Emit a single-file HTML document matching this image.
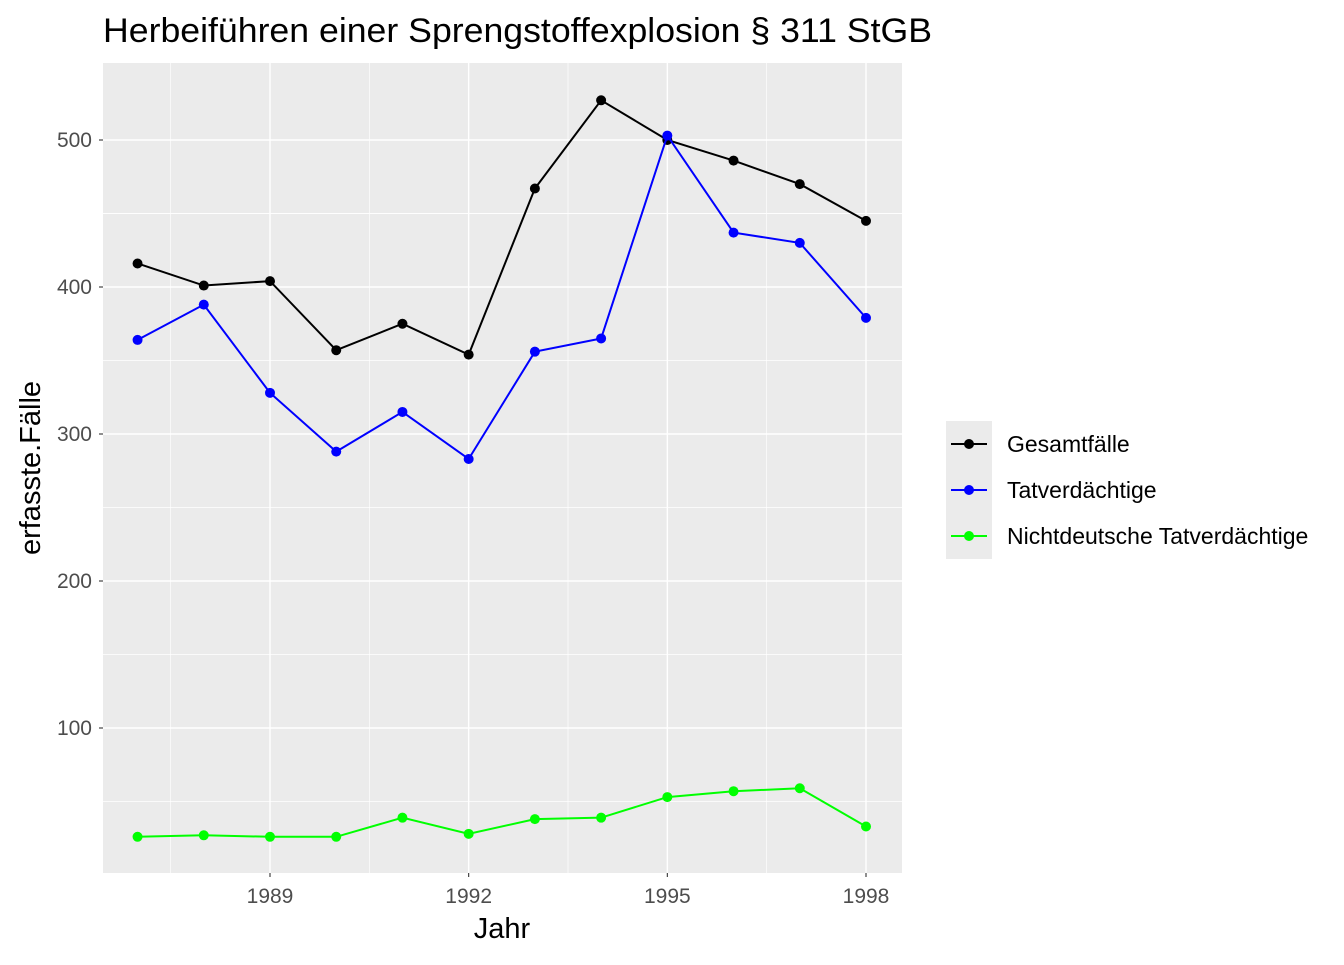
<!DOCTYPE html>
<html><head><meta charset="utf-8"><style>
body{margin:0;background:#fff}
svg{font-family:"Liberation Sans",sans-serif}
</style></head><body>
<svg id="chart" width="1344" height="960">
<rect width="1344" height="960" fill="#fff"/>
<text x="103" y="42" font-size="34" fill="#000" textLength="829" lengthAdjust="spacingAndGlyphs">Herbeiführen einer Sprengstoffexplosion § 311 StGB</text>
<rect x="103" y="63" width="799" height="810" fill="#ebebeb"/>
<g id="grid"></g><g id="series"></g><g id="axes"></g>
<text x="502" y="938" font-size="29" text-anchor="middle">Jahr</text>
<text transform="translate(40,468) rotate(-90)" font-size="29" text-anchor="middle">erfasste.Fälle</text>
<rect x="946" y="421" width="46" height="138" fill="#ebebeb"/>
<g id="legend"></g>
</svg>
<script>
const years=[1987,1988,1989,1990,1991,1992,1993,1994,1995,1996,1997,1998];
const gesamt=[416,401,404,357,375,354,467,527,500,486,470,445];
const tatv=[364,388,328,288,315,283,356,365,503,437,430,379];
const nicht=[26,27,26,26,39,28,38,39,53,57,59,33];
const seriesNames=["Gesamtfälle","Tatverdächtige","Nichtdeutsche Tatverdächtige"];
const yTicks=[100,200,300,400,500];
const xTicks=[1989,1992,1995,1998];
const NS="http://www.w3.org/2000/svg";
const x=v=>270+(v-1989)*(866-270)/9;
const y=v=>140+(500-v)*1.47;
function mk(tag,attrs,parent){const e=document.createElementNS(NS,tag);for(const k in attrs)e.setAttribute(k,attrs[k]);document.getElementById(parent).appendChild(e);return e;}
yTicks.forEach(t=>{
 const m=mk('line',{x1:103,x2:902,y1:y(t-50),y2:y(t-50),stroke:'#fff','stroke-width':0.7},'grid');
 
 
 const g=mk('line',{x1:103,x2:902,y1:y(t),y2:y(t),stroke:'#fff','stroke-width':1.4},'grid');
 
 
 const l=mk('text',{x:92,y:y(t)+7,'font-size':21,fill:'#4d4d4d','text-anchor':'end'},'axes');
 l.textContent=t;
 
 
});
{const m=mk('line',{x1:103,x2:902,y1:y(450),y2:y(450),stroke:'#fff','stroke-width':0.7},'grid');
 
 }
xTicks.forEach(t=>{
 const m=mk('line',{x1:x(t-1.5),x2:x(t-1.5),y1:63,y2:873,stroke:'#fff','stroke-width':0.7},'grid');
 
 
 const g=mk('line',{x1:x(t),x2:x(t),y1:63,y2:873,stroke:'#fff','stroke-width':1.4},'grid');
 
 
 const tk=mk('line',{x1:x(t),x2:x(t),y1:873,y2:877,stroke:'#333','stroke-width':1.1},'axes');
 
 
 const l=mk('text',{x:x(t),y:903,'font-size':21,fill:'#4d4d4d','text-anchor':'middle'},'axes');
 l.textContent=t;
 
 
});
yTicks.forEach(t=>{const tk=mk('line',{x1:99,x2:103,y1:y(t),y2:y(t),stroke:'#333','stroke-width':1.1},'axes');
 
 });
const all=[gesamt,tatv,nicht],cols=['#000','#0000ff','#00ff00'],keys=['gesamt','tatverdaechtige','nichtdeutsche'];
all.forEach((s,i)=>{
 const p=mk('polyline',{points:s.map((v,j)=>x(years[j])+','+y(v)).join(' '),fill:'none',stroke:cols[i],'stroke-width':2},'series');
 
 
 s.forEach((v,j)=>{const c=mk('circle',{cx:x(years[j]),cy:y(v),r:5,fill:cols[i]},'series');
  
  });
 const ly=444+i*46;
 const ll=mk('line',{x1:951,x2:987,y1:ly,y2:ly,stroke:cols[i],'stroke-width':2},'legend');
 
 
 const lc=mk('circle',{cx:969,cy:ly,r:5,fill:cols[i]},'legend');
 
 
 const lt=mk('text',{x:1007,y:ly+8,'font-size':23},'legend');
 lt.textContent=seriesNames[i];
 
 
});
</script>
</body></html>
